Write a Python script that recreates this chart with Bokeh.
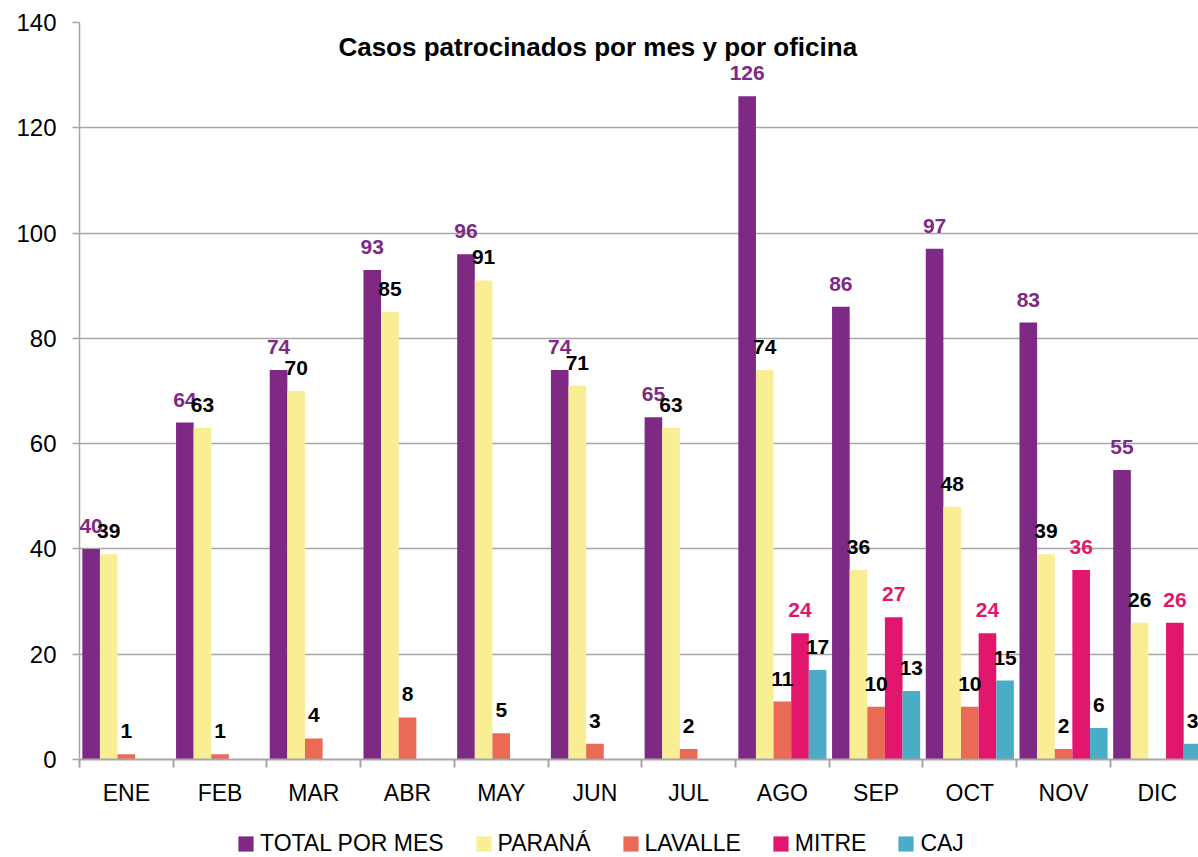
import numpy as np
from bokeh.plotting import figure
from bokeh.layouts import column
from bokeh.models import (ColumnDataSource, Range1d, FixedTicker, LabelSet, Label,
                          Legend)
from bokeh.core.properties import value
from bokeh.transform import dodge
from bokeh.embed import file_html
from bokeh.resources import INLINE

months = ["ENE", "FEB", "MAR", "ABR", "MAY", "JUN", "JUL", "AGO", "SEP", "OCT", "NOV", "DIC"]
total = [40, 64, 74, 93, 96, 74, 65, 126, 86, 97, 83, 55]
parana = [39, 63, 70, 85, 91, 71, 63, 74, 36, 48, 39, 26]
lavalle = [1, 1, 4, 8, 5, 3, 2, 11, 10, 10, 2, 0]
mitre = [0, 0, 0, 0, 0, 0, 0, 24, 27, 24, 36, 26]
caj = [0, 0, 0, 0, 0, 0, 0, 17, 13, 15, 6, 3]
series_names = ["TOTAL POR MES", "PARANÁ", "LAVALLE", "MITRE", "CAJ"]
y_ticks = [0, 20, 40, 60, 80, 100, 120, 140]
title_text = "Casos patrocinados por mes y por oficina"

colors = ["#7E2A84", "#F9EE94", "#EA6A55", "#E3166D", "#4BACC6"]
label_colors = ["#7E2A84", "#000000", "#000000", "#E3166D", "#000000"]
FONT = "Liberation Sans"

centers = [i + 0.5 for i in range(len(months))]
BW = 0.188

p = figure(width=1198, height=812, output_backend="svg", toolbar_location=None,
           x_range=Range1d(0, 11.94), y_range=Range1d(0, 140),
           min_border_left=79, min_border_right=0, min_border_top=22,
           min_border_bottom=53)
p.outline_line_color = None
p.background_fill_color = "white"
p.border_fill_color = "white"

p.xgrid.grid_line_color = None
p.ygrid.grid_line_color = "#A6A6A6"
p.ygrid.grid_line_width = 1.5

p.yaxis.ticker = FixedTicker(ticks=y_ticks)
p.yaxis.axis_line_color = "#A6A6A6"
p.yaxis.axis_line_width = 1.5
p.yaxis.major_tick_line_color = "#A6A6A6"
p.yaxis.major_tick_line_width = 1.5
p.yaxis.major_tick_out = 7
p.yaxis.major_tick_in = 0
p.yaxis.minor_tick_line_color = None
p.yaxis.major_label_text_font = FONT
p.yaxis.major_label_text_font_size = "24px"
p.yaxis.major_label_text_color = "#000000"
p.yaxis.major_label_standoff = 16

p.xaxis.ticker = FixedTicker(ticks=centers, minor_ticks=list(range(len(months) + 1)))
p.xaxis.major_label_overrides = {c: m for c, m in zip(centers, months)}
p.xaxis.axis_line_color = "#A6A6A6"
p.xaxis.axis_line_width = 2
p.xaxis.major_tick_line_color = None
p.xaxis.major_tick_out = 0
p.xaxis.major_tick_in = 0
p.xaxis.minor_tick_line_color = "#A6A6A6"
p.xaxis.minor_tick_line_width = 2
p.xaxis.minor_tick_out = 8
p.xaxis.minor_tick_in = 0
p.xaxis.major_label_text_font = FONT
p.xaxis.major_label_text_font_size = "23px"
p.xaxis.major_label_text_color = "#000000"
p.xaxis.major_label_standoff = 12

# legend strip below the chart (its frame is aligned with the chart frame)
lf = figure(width=1198, height=45, output_backend="svg", toolbar_location=None,
            x_range=Range1d(0, 1), y_range=Range1d(0, 1),
            x_axis_location=None, y_axis_location=None,
            min_border_left=0, min_border_right=0, min_border_top=0,
            min_border_bottom=0)
lf.outline_line_color = None
lf.grid.grid_line_color = None
lf.border_fill_color = "white"

all_series = [total, parana, lavalle, mitre, caj]
legend_items = []
for k, (name, vals) in enumerate(zip(series_names, all_series)):
    src = ColumnDataSource(dict(
        x=centers, y=vals,
        lbl=[str(v) if v > 0 else "" for v in vals]))
    off = (k - 2) * BW
    p.vbar(x=dodge("x", off, range=p.x_range), top="y", width=BW, source=src,
           fill_color=colors[k], line_color=None)
    ls = LabelSet(x=dodge("x", off, range=p.x_range), y="y", text="lbl", source=src,
                  y_offset=16, text_align="center", text_baseline="alphabetic",
                  text_font=value(FONT), text_font_style="bold", text_font_size="21px",
                  text_color=label_colors[k])
    p.add_layout(ls)
    # legend proxy: a single bar placed outside the visible strip range
    lr = lf.vbar(x=[-5], top=[0], width=BW, fill_color=colors[k], line_color=None)
    legend_items.append((name, [lr]))

p.add_layout(Label(x=5.53, y=135.3, text=title_text, text_align="center",
                   text_baseline="middle", text_font=FONT, text_font_style="bold",
                   text_font_size="26px", text_color="#000000"))

legend = Legend(items=legend_items, orientation="horizontal", location=(157, 0),
                padding=0, margin=0, spacing=30, label_standoff=5,
                glyph_width=19, glyph_height=19,
                label_text_font=FONT, label_text_font_size="23px",
                label_text_color="#000000", border_line_color=None,
                background_fill_alpha=0)
lf.add_layout(legend, "center")

layout = column(p, lf, spacing=0)
open("out.html", "w").write(file_html(layout, INLINE))
